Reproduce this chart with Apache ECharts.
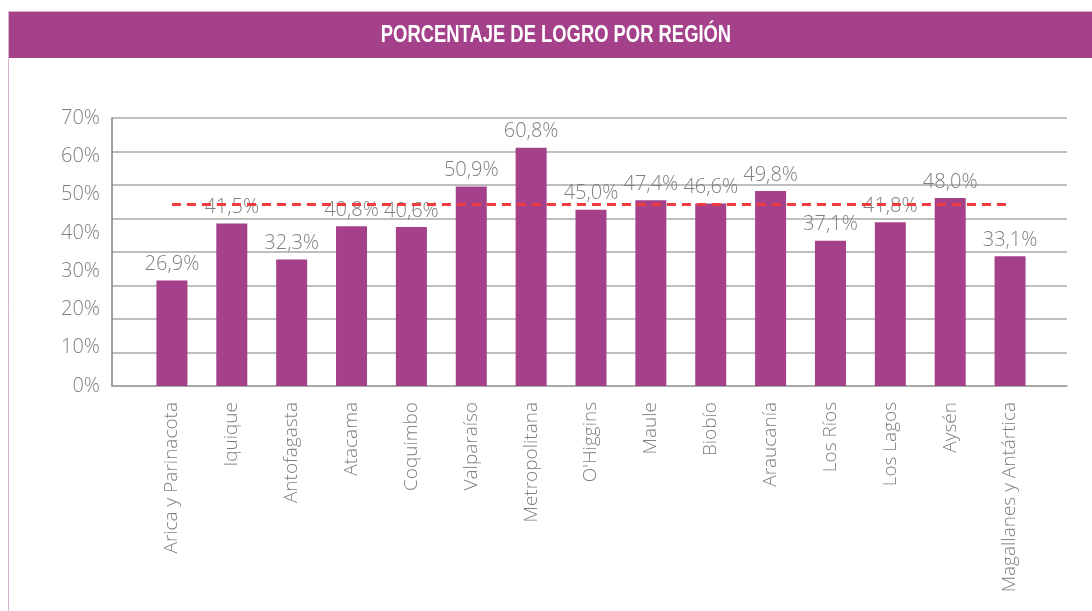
<!DOCTYPE html>
<html>
<head>
<meta charset="utf-8">
<script src="https://cdn.jsdelivr.net/npm/echarts@6/dist/echarts.min.js"></script>
<style>
  html, body { margin: 0; padding: 0; background: #fff; }
  #chart { width: 1092px; height: 611px; }
</style>
</head>
<body>
<div id="chart"></div>
<script>
const regions = ['Arica y Parinacota', 'Iquique', 'Antofagasta', 'Atacama', 'Coquimbo', 'Valparaíso',
  'Metropolitana', "O'Higgins", 'Maule', 'Biobío', 'Araucanía', 'Los Ríos', 'Los Lagos', 'Aysén',
  'Magallanes y Antártica'];
const logro = [26.9, 41.5, 32.3, 40.8, 40.6, 50.9, 60.8, 45.0, 47.4, 46.6, 49.8, 37.1, 41.8, 48.0, 33.1];
const promedio = 46.5;
const yTicks = [0, 10, 20, 30, 40, 50, 60, 70];

const purple = '#a4418a';
const grey = '#7f7f7f';
const font = '"Open Sans", sans-serif';

const chart = echarts.init(document.getElementById('chart'));

const pct = v => v.toFixed(1).replace('.', ',') + '%';

chart.setOption({
  animation: false,
  graphic: [
    { type: 'rect', shape: { x: 8, y: 12, width: 1084, height: 46 }, style: { fill: purple } },
    { type: 'line', shape: { x1: 8, y1: 11.5, x2: 1092, y2: 11.5 }, style: { stroke: '#d9b3cf', lineWidth: 1 } },
    { type: 'line', shape: { x1: 8.5, y1: 12, x2: 8.5, y2: 611 }, style: { stroke: '#d9b3cf', lineWidth: 1 } },
    {
      // condensed title: squeeze a bold face horizontally
      type: 'text', x: 556, y: 36, scaleX: 0.8, scaleY: 1,
      style: {
        text: 'PORCENTAJE DE LOGRO POR REGIÓN', fill: '#fff',
        font: 'bold 23px "Liberation Sans", sans-serif',
        align: 'center', verticalAlign: 'middle'
      }
    }
  ],
  grid: [
    { left: 112, right: 25, top: 118, bottom: 225 },
    { left: 142, right: 52, top: 118, bottom: 225 }
  ],
  xAxis: [
    {
      gridIndex: 0, type: 'value', min: 0, max: 1,
      axisLine: { show: true, onZero: false, lineStyle: { color: '#a0a0a0', width: 1.5 } },
      axisTick: { show: false }, axisLabel: { show: false }, splitLine: { show: false }
    },
    {
      gridIndex: 1, type: 'category', data: regions,
      axisLine: { show: false }, axisTick: { show: false },
      axisLabel: {
        rotate: 90, margin: 16, interval: 0,
        color: grey, fontFamily: font, fontWeight: 300, fontSize: 19
      }
    }
  ],
  yAxis: [
    {
      gridIndex: 0, type: 'value', min: 0, max: 70, interval: 10,
      axisLine: { show: true, lineStyle: { color: '#808080', width: 1.5 } },
      axisTick: { show: false },
      axisLabel: {
        margin: 12, color: grey, fontFamily: font, fontWeight: 300, fontSize: 20,
        padding: [0, 0, 4, 0],
        formatter: v => yTicks.includes(v) ? v + '%' : ''
      },
      splitLine: { show: false }
    },
    {
      gridIndex: 0, type: 'value', min: 0, max: 8, interval: 1,
      position: 'left',
      axisLine: { show: false }, axisTick: { show: false }, axisLabel: { show: false },
      splitLine: { show: true, lineStyle: { color: '#a8a8a8', width: 1.5 } }
    },
    {
      gridIndex: 1, type: 'value', min: 0, max: 68.4,
      axisLine: { show: false }, axisTick: { show: false }, axisLabel: { show: false },
      splitLine: { show: false }
    }
  ],
  series: [
    {
      type: 'bar',
      xAxisIndex: 1, yAxisIndex: 2,
      data: logro,
      barWidth: 31,
      itemStyle: { color: purple },
      label: {
        show: true, position: 'top', distance: 6,
        color: grey, fontFamily: font, fontWeight: 300, fontSize: 20,
        formatter: p => pct(p.value)
      },
      markLine: {
        silent: true, symbol: 'none',
        label: { show: false },
        lineStyle: { color: '#ee3b3f', type: [9, 6], width: 3 },
        data: [[{ coord: [0, promedio] }, { coord: [regions.length - 1, promedio] }]]
      }
    }
  ]
});
</script>
</body>
</html>
